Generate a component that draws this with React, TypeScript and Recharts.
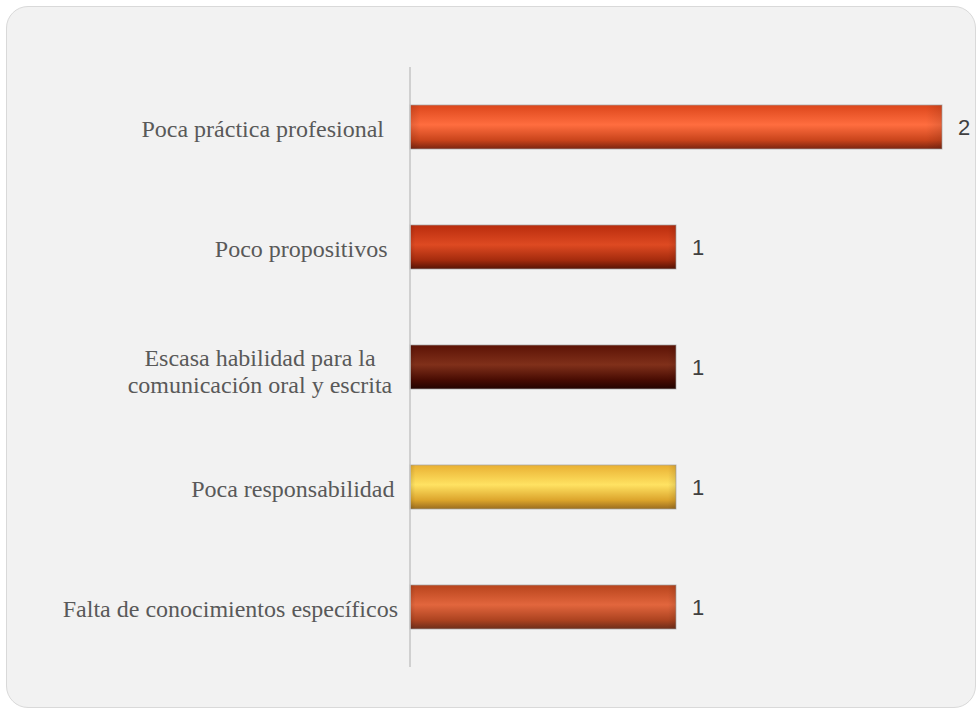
import { BarChart, Bar, XAxis, YAxis, Cell, LabelList } from "recharts"

const categories = [
  "Poca práctica profesional",
  "Poco propositivos",
  "Escasa habilidad para la|comunicación oral y escrita",
  "Poca responsabilidad",
  "Falta de conocimientos específicos",
]
const values = [2, 1, 1, 1, 1]

// top, highlight, lower, edge per bar
const barColors = [
  ["#dc461b", "#ff6d3f", "#c9441b", "#7a2510"],
  ["#b92c0d", "#de4a22", "#a42b0d", "#561405"],
  ["#5c1205", "#80301a", "#470b02", "#220300"],
  ["#e9b032", "#ffe262", "#dca42c", "#9a6c20"],
  ["#b8441c", "#e2663d", "#ac4320", "#6c2e1a"],
]

const data = categories.map((c, i) => ({ name: c, value: values[i] }))

function Tick(props: any) {
  const { x, y, payload, index } = props
  const lines = String(payload.value).split("|")
  const style = { fontFamily: "'Liberation Serif', 'Times New Roman', serif", fontSize: 24, fill: "#595959" }
  // the original axis leans a little, labels follow it
  const tx = x + ((index ?? 0) - 2) * 3.5
  if (lines.length > 1) {
    return (
      <text x={tx - 131} y={y} textAnchor="middle" style={style}>
        {lines.map((l, i) => (
          <tspan key={i} x={tx - 131} y={y - 1 + i * 27}>
            {l}
          </tspan>
        ))}
      </text>
    )
  }
  return (
    <text x={tx} y={y + 10} textAnchor="end" style={style}>
      {lines[0]}
    </text>
  )
}

function CylinderBar(props: any) {
  const { x, y, width, height, index } = props
  return (
    <g>
      <rect x={x} y={y} width={width} height={height} fill={`url(#bar${index})`} stroke="#a6a6a6" strokeOpacity={0.7} strokeWidth={1} />
      <rect x={x} y={y} width={width} height={height} fill="url(#caps)" />
    </g>
  )
}

export default function App() {
  return (
    <div style={{ position: "absolute", left: 0, top: 0, width: 976, height: 711, background: "#ffffff" }}>
      <div
        style={{
          position: "absolute",
          left: 6,
          top: 6,
          width: 968,
          height: 700,
          borderRadius: 22,
          border: "1.5px solid #d9d9d9",
          background: "#f2f2f2",
        }}
      />
      <div style={{ position: "absolute", left: 0, top: 0 }}>
        <BarChart
          width={976}
          height={711}
          data={data}
          layout="vertical"
          margin={{ top: 67, right: 34, bottom: 44, left: 0 }}
        >
          <defs>
            {barColors.map((c, i) => (
              <linearGradient key={i} id={`bar${i}`} x1="0" y1="0" x2="0" y2="1">
                <stop offset="0%" stopColor={c[0]} />
                <stop offset="45%" stopColor={c[1]} />
                <stop offset="80%" stopColor={c[2]} />
                <stop offset="100%" stopColor={c[3]} />
              </linearGradient>
            ))}
            <linearGradient id="caps" x1="0" y1="0" x2="1" y2="0">
              <stop offset="0%" stopColor="#000" stopOpacity={0.12} />
              <stop offset="2%" stopColor="#000" stopOpacity={0} />
              <stop offset="97%" stopColor="#000" stopOpacity={0} />
              <stop offset="100%" stopColor="#000" stopOpacity={0.1} />
            </linearGradient>
          </defs>
          <XAxis type="number" domain={[0, 2]} hide />
          <YAxis
            type="category"
            dataKey="name"
            width={410}
            tickLine={false}
            tickMargin={13}
            axisLine={{ stroke: "#c4c4c4", strokeWidth: 1.5 }}
            tick={<Tick />}
            interval={0}
          />
          <Bar dataKey="value" barSize={44} isAnimationActive={false} shape={<CylinderBar />}>
            {data.map((d, i) => (
              <Cell key={d.name} fill={`url(#bar${i})`} />
            ))}
            <LabelList
              dataKey="value"
              position="right"
              offset={16}
              style={{ fontFamily: "'Liberation Sans', Arial, sans-serif", fontSize: 22, fill: "#404040" }}
            />
          </Bar>
        </BarChart>
      </div>
    </div>
  )
}
